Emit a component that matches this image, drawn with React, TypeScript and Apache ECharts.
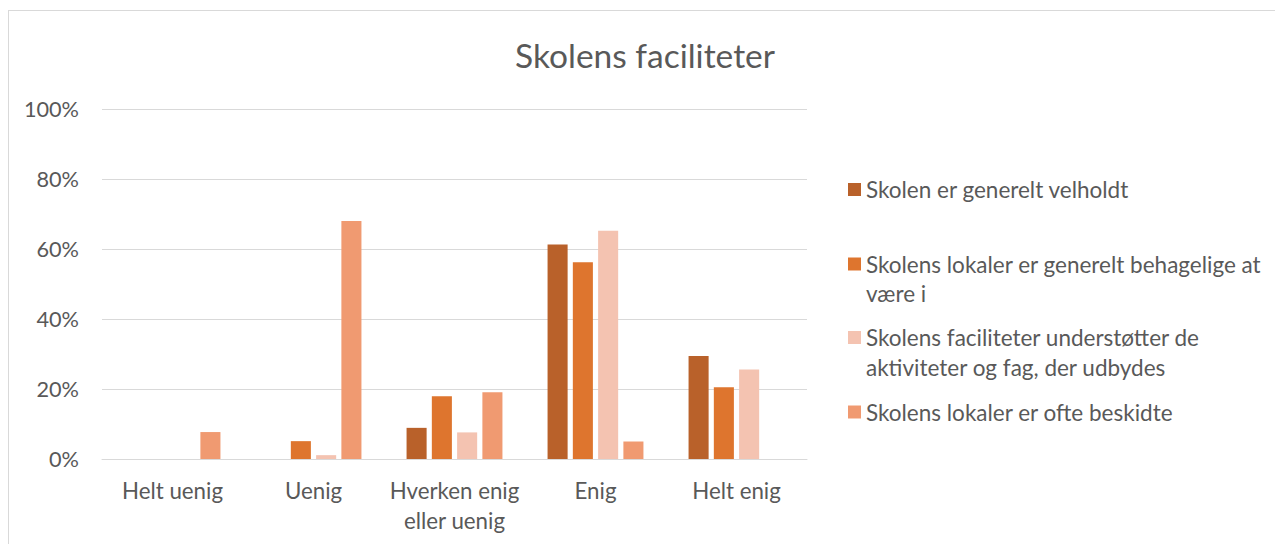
import React, { useEffect, useRef } from "react";
import * as echarts from "echarts";

const categories = ["Helt uenig", "Uenig", "Hverken enig eller uenig", "Enig", "Helt enig"];
const categoryLabels = ["Helt uenig", "Uenig", "Hverken enig\neller uenig", "Enig", "Helt enig"];
const seriesNames = [
  "Skolen er generelt velholdt",
  "Skolens lokaler er generelt behagelige at være i",
  "Skolens faciliteter understøtter de aktiviteter og fag, der udbydes",
  "Skolens lokaler er ofte beskidte",
];
const legendLabels = [
  "Skolen er generelt velholdt",
  "Skolens lokaler er generelt behagelige at\nvære i",
  "Skolens faciliteter understøtter de\naktiviteter og fag, der udbydes",
  "Skolens lokaler er ofte beskidte",
];
const velholdt = [0, 0, 8.9, 61.3, 29.4];
const behagelige = [0, 5.1, 17.9, 56.2, 20.5];
const understotter = [0, 1.1, 7.6, 65.2, 25.6];
const beskidte = [7.7, 68.0, 19.1, 5.0, 0];
const yTicks = [0, 20, 40, 60, 80, 100];
const colors = ["#B9612A", "#DE752E", "#F4C3B1", "#F09A71"];

const FONT = "Lato";
const TEXT = "#595959";

export default function App() {
  const ref = useRef<HTMLDivElement>(null);
  useEffect(() => {
    if (!ref.current) return;
    const chart = echarts.init(ref.current, undefined, { renderer: "svg" });
    const values = [velholdt, behagelige, understotter, beskidte];
    const L = 29.5;
    const iconCenters = [189.5, 264, 337.5, 412];
    const legends = seriesNames.map((name, i) => {
      const multi = legendLabels[i].includes("\n");
      return {
        orient: "vertical",
        left: 848,
        top: multi ? iconCenters[i] - 1.5 * L : iconCenters[i] - L / 2,
        padding: 0,
        itemWidth: 13,
        itemHeight: 13,
        icon: "rect",
        selectedMode: false,
        data: [name],
        formatter: () => (multi ? " \n" + legendLabels[i] : legendLabels[i]),
        textStyle: {
          fontFamily: FONT,
          fontSize: 22.5,
          color: TEXT,
          lineHeight: L,
        },
      };
    });
    chart.setOption({
      animation: false,
      color: colors,
      title: {
        text: "Skolens faciliteter",
        left: 640,
        textAlign: "center",
        top: 30,
        textStyle: { fontFamily: FONT, fontSize: 33.5, fontWeight: "normal", color: TEXT, lineHeight: 40 },
      },
      legend: legends,
      grid: { left: 102, right: 468, top: 109, bottom: 85, containLabel: false },
      xAxis: {
        type: "category",
        data: categories,
        axisLine: { lineStyle: { color: "#D9D9D9", width: 1 } },
        axisTick: { show: false },
        axisLabel: {
          formatter: (v: string) => categoryLabels[categories.indexOf(v)],
          fontFamily: FONT,
          fontSize: 22.3,
          color: TEXT,
          lineHeight: 30,
          margin: 16,
          interval: 0,
        },
      },
      yAxis: {
        type: "value",
        min: yTicks[0],
        max: yTicks[yTicks.length - 1],
        interval: 20,
        axisLine: { show: false },
        axisTick: { show: false },
        splitLine: { lineStyle: { color: "#D9D9D9", width: 1 } },
        axisLabel: {
          formatter: "{value}%",
          fontFamily: FONT,
          fontSize: 21.7,
          color: TEXT,
          margin: 23,
        },
      },
      series: seriesNames.map((name, i) => ({
        name,
        type: "bar",
        data: values[i],
        barCategoryGap: "32%",
        barGap: "26%",
        itemStyle: { color: colors[i] },
      })),
    });
    return () => chart.dispose();
  }, []);
  return (
    <div style={{ position: "absolute", left: 0, top: 0, width: 1275, height: 544, overflow: "hidden", background: "#fff" }}>
      <div
        style={{
          position: "absolute",
          left: 8,
          top: 10,
          width: 1280,
          height: 560,
          borderTop: "1.5px solid #D9D9D9",
          borderLeft: "1.5px solid #D9D9D9",
        }}
      />
      <div ref={ref} style={{ position: "absolute", left: 0, top: 0, width: 1275, height: 544 }} />
    </div>
  );
}
